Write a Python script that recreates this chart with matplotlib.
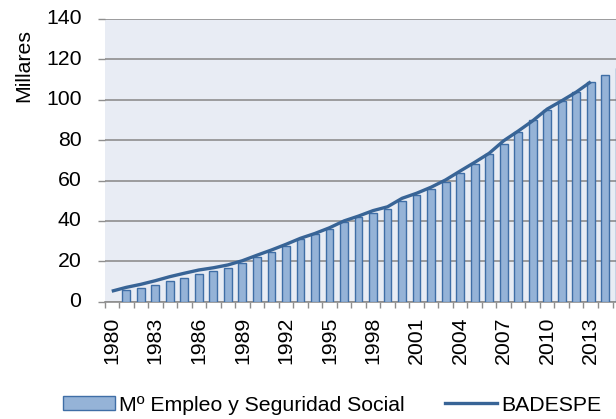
import numpy as np
import matplotlib
matplotlib.use("Agg")
import matplotlib.pyplot as plt
from matplotlib.patches import Patch
from matplotlib.lines import Line2D

plt.rcParams['font.family'] = ['Liberation Sans', 'DejaVu Sans']

years = list(range(1980, 2016))

# Mº Empleo y Seguridad Social (miles)
empleo = [np.nan, 5.8, 7.0, 8.5, 10.4, 11.8, 13.5, 15.0, 16.7, 19.3,
          22.0, 24.8, 27.7, 30.9, 33.4, 36.2, 39.6, 41.8, 43.8, 46.1,
          49.9, 52.8, 56.0, 59.4, 63.6, 68.0, 73.1, 78.1, 84.2, 90.0,
          94.9, 99.4, 103.7, 108.9, 112.3, 115.7]

# BADESPE (miles), 1980-2013
badespe = [5.2, 7.1, 8.6, 10.4, 12.4, 14.1, 15.7, 16.8, 18.2, 20.3,
           23.0, 25.6, 28.4, 31.4, 33.8, 36.6, 40.0, 42.4, 45.1, 47.0,
           51.2, 53.7, 56.7, 60.3, 64.7, 69.0, 73.5, 79.7, 84.5, 89.6,
           95.4, 99.5, 103.8, 108.9]

y_ticks = [0, 20, 40, 60, 80, 100, 120, 140]

bar_fill = '#95B3D7'
bar_edge = '#3F6EA6'
line_col = '#386496'
grid_col = '#8E8E8E'
bg_col = '#E8ECF4'
fs = 15.3

W, H = 616, 419
fig = plt.figure(figsize=(W / 100, H / 100), dpi=100)

n = len(years)
px_per_cat = 14.515
ax_left, ax_bottom, ax_top = 104.5, 301.7, 19
ax_w = n * px_per_cat
ax = fig.add_axes([ax_left / W, 1 - ax_bottom / H, ax_w / W, (ax_bottom - ax_top) / H])
ax.set_facecolor(bg_col)

x = np.arange(n)
ax.bar(x, empleo, width=0.54, color=bar_fill, edgecolor=bar_edge, linewidth=1.0, zorder=3)
ax.plot(x[:len(badespe)], badespe, color=line_col, linewidth=2.4, zorder=4,
        solid_capstyle='butt', solid_joinstyle='round')

ax.set_xlim(-0.5, n - 0.5)
ax.set_ylim(0, 140)
ax.set_yticks(y_ticks)
ax.set_yticklabels([])
ax.yaxis.grid(True, color=grid_col, linewidth=1.2, zorder=1)
ax.set_axisbelow(True)

# value labels for the y axis, right-aligned well clear of the plot area
ytr = ax.get_yaxis_transform()
for v in y_ticks:
    ax.text(-23 / ax_w, v, str(v), transform=ytr, ha='right', va='center',
            fontsize=fs, clip_on=False)

# category boundaries carry the tick marks, labels every three years
ax.set_xticks(np.arange(-0.5, n, 1.0))
ax.set_xticklabels([])
ax.set_xticks(x[::3], minor=True)
ax.set_xticklabels([str(y) for y in years[::3]], minor=True, rotation=90, fontsize=fs)
ax.tick_params(axis='x', which='major', length=4, width=1.0, color=grid_col, direction='out')
ax.tick_params(axis='x', which='minor', length=0, pad=11)
ax.tick_params(axis='y', which='major', length=5, width=1.0, color=grid_col)

for side in ['top', 'right', 'left']:
    ax.spines[side].set_visible(False)
ax.spines['bottom'].set_color(grid_col)
ax.spines['bottom'].set_linewidth(1.2)

fig.text(24 / W, 1 - 66 / H, 'Millares', rotation=90, ha='center', va='center', fontsize=fs)

handles = [Patch(facecolor=bar_fill, edgecolor=bar_edge, linewidth=1.0),
           Line2D([0], [0], color=line_col, linewidth=2.4)]
fig.legend(handles, ['Mº Empleo y Seguridad Social', 'BADESPE'],
           loc='center', bbox_to_anchor=(332 / W, 1 - 405 / H), ncol=2,
           frameon=False, fontsize=fs, handlelength=2.45, handleheight=0.6,
           handletextpad=0.2, columnspacing=1.9, borderaxespad=0, borderpad=0)

fig.savefig('out.png', dpi=100)
